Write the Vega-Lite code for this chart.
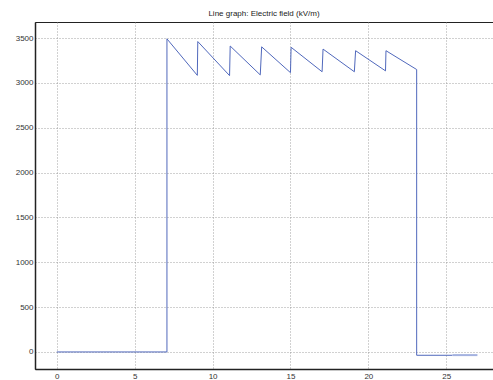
{
  "$schema": "https://vega.github.io/schema/vega-lite/v6.json",
  "width": 458,
  "height": 347,
  "autosize": {"type": "none"},
  "padding": {"left": 35, "top": 22, "right": 0, "bottom": 11},
  "background": "white",
  "title": {"text": "Line graph: Electric field (kV/m)", "fontSize": 8, "font": "Liberation Sans", "fontWeight": "normal", "color": "#222", "anchor": "middle", "frame": "group", "offset": 4},
  "config": {
    "view": {"stroke": "#222", "strokeWidth": 1},
    "axis": {
      "labelFont": "Liberation Sans", "labelFontSize": 8, "labelColor": "#333",
      "grid": true, "gridColor": "#8a8a8a", "gridDash": [1, 2], "gridWidth": 0.8,
      "domainColor": "#222", "domainWidth": 1.5, "ticks": false, "labelPadding": 3, "title": null
    }
  },
  "data": {"values": [
    {"i": 1, "t": 0, "E": 0, "s": "a"},
    {"i": 2, "t": 7.07, "E": 0, "s": "a"},
    {"i": 3, "t": 7.07, "E": 3492, "s": "a"},
    {"i": 4, "t": 9.02, "E": 3085, "s": "a"},
    {"i": 5, "t": 9.05, "E": 3462, "s": "a"},
    {"i": 6, "t": 11.09, "E": 3082, "s": "a"},
    {"i": 7, "t": 11.13, "E": 3412, "s": "a"},
    {"i": 8, "t": 13.06, "E": 3090, "s": "a"},
    {"i": 9, "t": 13.15, "E": 3403, "s": "a"},
    {"i": 10, "t": 15.0, "E": 3115, "s": "a"},
    {"i": 11, "t": 15.04, "E": 3398, "s": "a"},
    {"i": 12, "t": 17.03, "E": 3125, "s": "a"},
    {"i": 13, "t": 17.09, "E": 3378, "s": "a"},
    {"i": 14, "t": 19.1, "E": 3125, "s": "a"},
    {"i": 15, "t": 19.18, "E": 3360, "s": "a"},
    {"i": 16, "t": 21.1, "E": 3135, "s": "a"},
    {"i": 17, "t": 21.13, "E": 3360, "s": "a"},
    {"i": 18, "t": 23.1, "E": 3150, "s": "a"},
    {"i": 19, "t": 23.1, "E": -37, "s": "a"},
    {"i": 20, "t": 25.4, "E": -37, "s": "a"},
    {"i": 21, "t": 25.4, "E": -35, "s": "b"},
    {"i": 22, "t": 27.0, "E": -35, "s": "b"}
  ]},
  "mark": {"type": "line", "clip": true},
  "encoding": {
    "x": {"field": "t", "type": "quantitative", "scale": {"domain": [-1.4, 28], "nice": false, "zero": false},
          "axis": {"values": [0, 5, 10, 15, 20, 25], "format": "d", "domain": true, "orient": "bottom"}},
    "y": {"field": "E", "type": "quantitative", "scale": {"domain": [-190, 3680], "nice": false, "zero": false},
          "axis": {"values": [0, 500, 1000, 1500, 2000, 2500, 3000, 3500], "format": "d", "labelPadding": 2}},
    "order": {"field": "i", "type": "quantitative"},
    "color": {"field": "s", "type": "nominal", "scale": {"domain": ["a", "b"], "range": ["#5068bc", "#a4b2e0"]}, "legend": null},
    "strokeWidth": {"field": "s", "type": "nominal", "scale": {"domain": ["a", "b"], "range": [1, 2]}, "legend": null}
  }
}
